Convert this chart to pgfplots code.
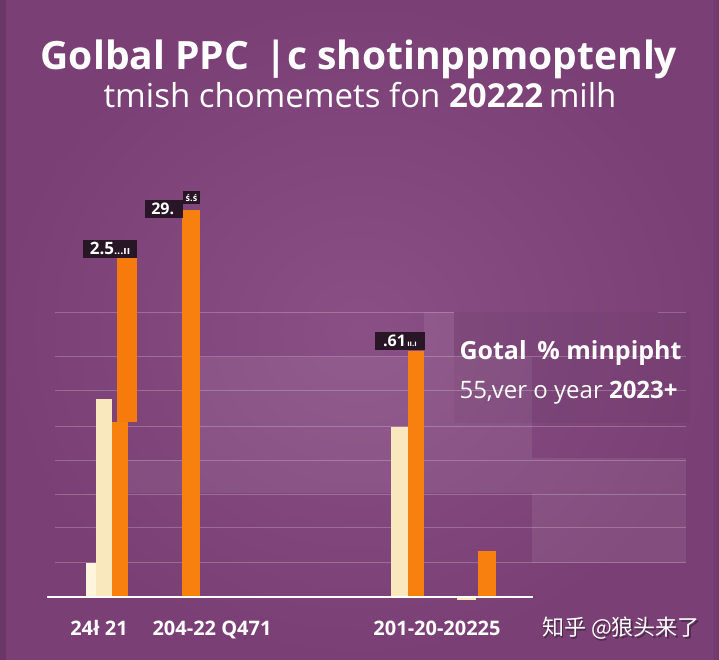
\documentclass[border=0pt]{standalone}
\usepackage{pgfplots}
\pgfplotsset{compat=1.18}
\usepackage{fontspec}
\setmainfont{Open Sans}
\newfontfamily\cjk{Noto Sans CJK SC}
\definecolor{bgmid}{RGB}{138,80,134}
\definecolor{bgedge}{RGB}{122,64,117}
\definecolor{cream}{RGB}{249,232,190}
\definecolor{creamlt}{RGB}{255,245,220}
\definecolor{orng}{RGB}{247,128,14}
\definecolor{lblbox}{RGB}{40,22,38}
\begin{document}
\begin{tikzpicture}
\useasboundingbox (0,0) rectangle (719pt,660pt);
\shade[inner color=bgmid, outer color=bgedge] (0,0) rectangle (719pt,660pt);
\fill[black, opacity=0.12] (0,0) rectangle (6pt,660pt);
\fill[black, opacity=0.06] (713pt,0) rectangle (719pt,660pt);
\begin{axis}[at={(0,0)}, anchor=south west, x=1pt, y=34.4pt,
  xmin=0, xmax=719, ymin=-1.831, ymax=17.355, hide axis, clip=false, scale only axis]
% lighter background blocks
\fill[white, opacity=0.07] (axis cs:200,3.02) rectangle (axis cs:532,6.98);
\fill[white, opacity=0.07] (axis cs:424,6.98) rectangle (axis cs:454,8.28);
\fill[white, opacity=0.07] (axis cs:532,0.99) rectangle (axis cs:686,4.04);
\fill[white, opacity=0.06] (axis cs:128,3.02) rectangle (axis cs:200,3.98);
\fill[black, opacity=0.04] (axis cs:454,5.06) rectangle (axis cs:690,8.28);
% gridlines
\pgfplotsinvokeforeach{0.99,2.03,2.99,3.98,4.97,5.99,6.98}{
  \draw[white, opacity=0.22, line width=1pt] (axis cs:55,#1) -- (axis cs:686,#1);
}
\draw[white, opacity=0.22, line width=1pt] (axis cs:55,8.28) -- (axis cs:454,8.28);
\draw[white, opacity=0.22, line width=1pt] (axis cs:658,8.28) -- (axis cs:686,8.28);
% bars
\addplot[ybar, bar width=11pt, fill=creamlt, draw=none] coordinates {(91.5,1.0)};
\addplot[ybar, bar width=16pt, fill=cream, draw=none] coordinates {(104,5.76)};
\addplot[ybar, bar width=16pt, fill=orng, draw=none] coordinates {(120,5.09)};
\addplot[fill=orng!95!red, draw=none] coordinates {(117,5.09) (137,5.09) (137,9.85) (117,9.85)} -- cycle;
\addplot[ybar, bar width=18pt, fill=orng, draw=none] coordinates {(191,11.25)};
\addplot[ybar, bar width=17pt, fill=cream, draw=none] coordinates {(399.5,4.94)};
\addplot[ybar, bar width=16pt, fill=orng, draw=none] coordinates {(416,7.15)};
\addplot[ybar, bar width=19pt, fill=cream, draw=none] coordinates {(466.5,-0.1)};
\addplot[ybar, bar width=18pt, fill=orng, draw=none] coordinates {(487,1.34)};
% baseline
\draw[white, line width=1.5pt] (axis cs:47,0) -- (axis cs:533,0);
% value boxes
\node[fill=lblbox, text=white, inner sep=0pt, minimum width=54pt, minimum height=18pt,
  font=\bfseries\fontsize{17}{17}\selectfont] at (axis cs:110,10.12) {2.5{\fontsize{11}{11}\selectfont...ıı}};
\node[fill=lblbox, text=white, inner sep=0pt, minimum width=38pt, minimum height=18pt,
  font=\bfseries\fontsize{16}{16}\selectfont] at (axis cs:164,11.28) {29.\,};
\node[fill=lblbox, text=white, inner sep=0pt, minimum width=17pt, minimum height=13pt,
  font=\bfseries\fontsize{9}{9}\selectfont] at (axis cs:191.5,11.6) {ś.ś};
\node[fill=lblbox, text=white, inner sep=0pt, minimum width=50pt, minimum height=18pt,
  font=\bfseries\fontsize{16}{16}\selectfont] at (axis cs:400,7.44) {.61{\fontsize{8}{8}\selectfont\,ıı.ı}};
\end{axis}
% titles
\node[anchor=base, text=white, font=\bfseries\fontsize{39}{40}\selectfont] at (359pt,590pt) {Golbal PPC \,|c shotinppmoptenly};
\node[anchor=base, text=white, font=\fontsize{33}{34}\selectfont] at (360pt,552pt) {tmish chomemets fon \textbf{20222}\,milh};
% annotation
\node[anchor=base west, text=white, font=\bfseries\fontsize{25}{26}\selectfont] at (456pt,300pt) {Gotal \,\% minpipht};
\node[anchor=base west, text=white, font=\fontsize{24}{26}\selectfont] at (456pt,261pt) {55,\kern-1pt ver o year \textbf{2023+}};
% x labels
\node[anchor=base, text=white, font=\bfseries\fontsize{20}{20}\selectfont] at (99pt,24pt) {24ł 21};
\node[anchor=base, text=white, font=\bfseries\fontsize{20}{20}\selectfont] at (212pt,24pt) {204-22 Q471};
\node[anchor=base, text=white, font=\bfseries\fontsize{20}{20}\selectfont] at (437pt,24pt) {201-20-20225};
% watermark
\node[anchor=base, text=black, opacity=0.35, font=\cjk\fontsize{22}{22}\selectfont] at (622.5pt,22.5pt) {知乎 @狼头来了};
\node[anchor=base, text=white, font=\cjk\fontsize{22}{22}\selectfont] at (621pt,24pt) {知乎 @狼头来了};
\end{tikzpicture}
\end{document}
